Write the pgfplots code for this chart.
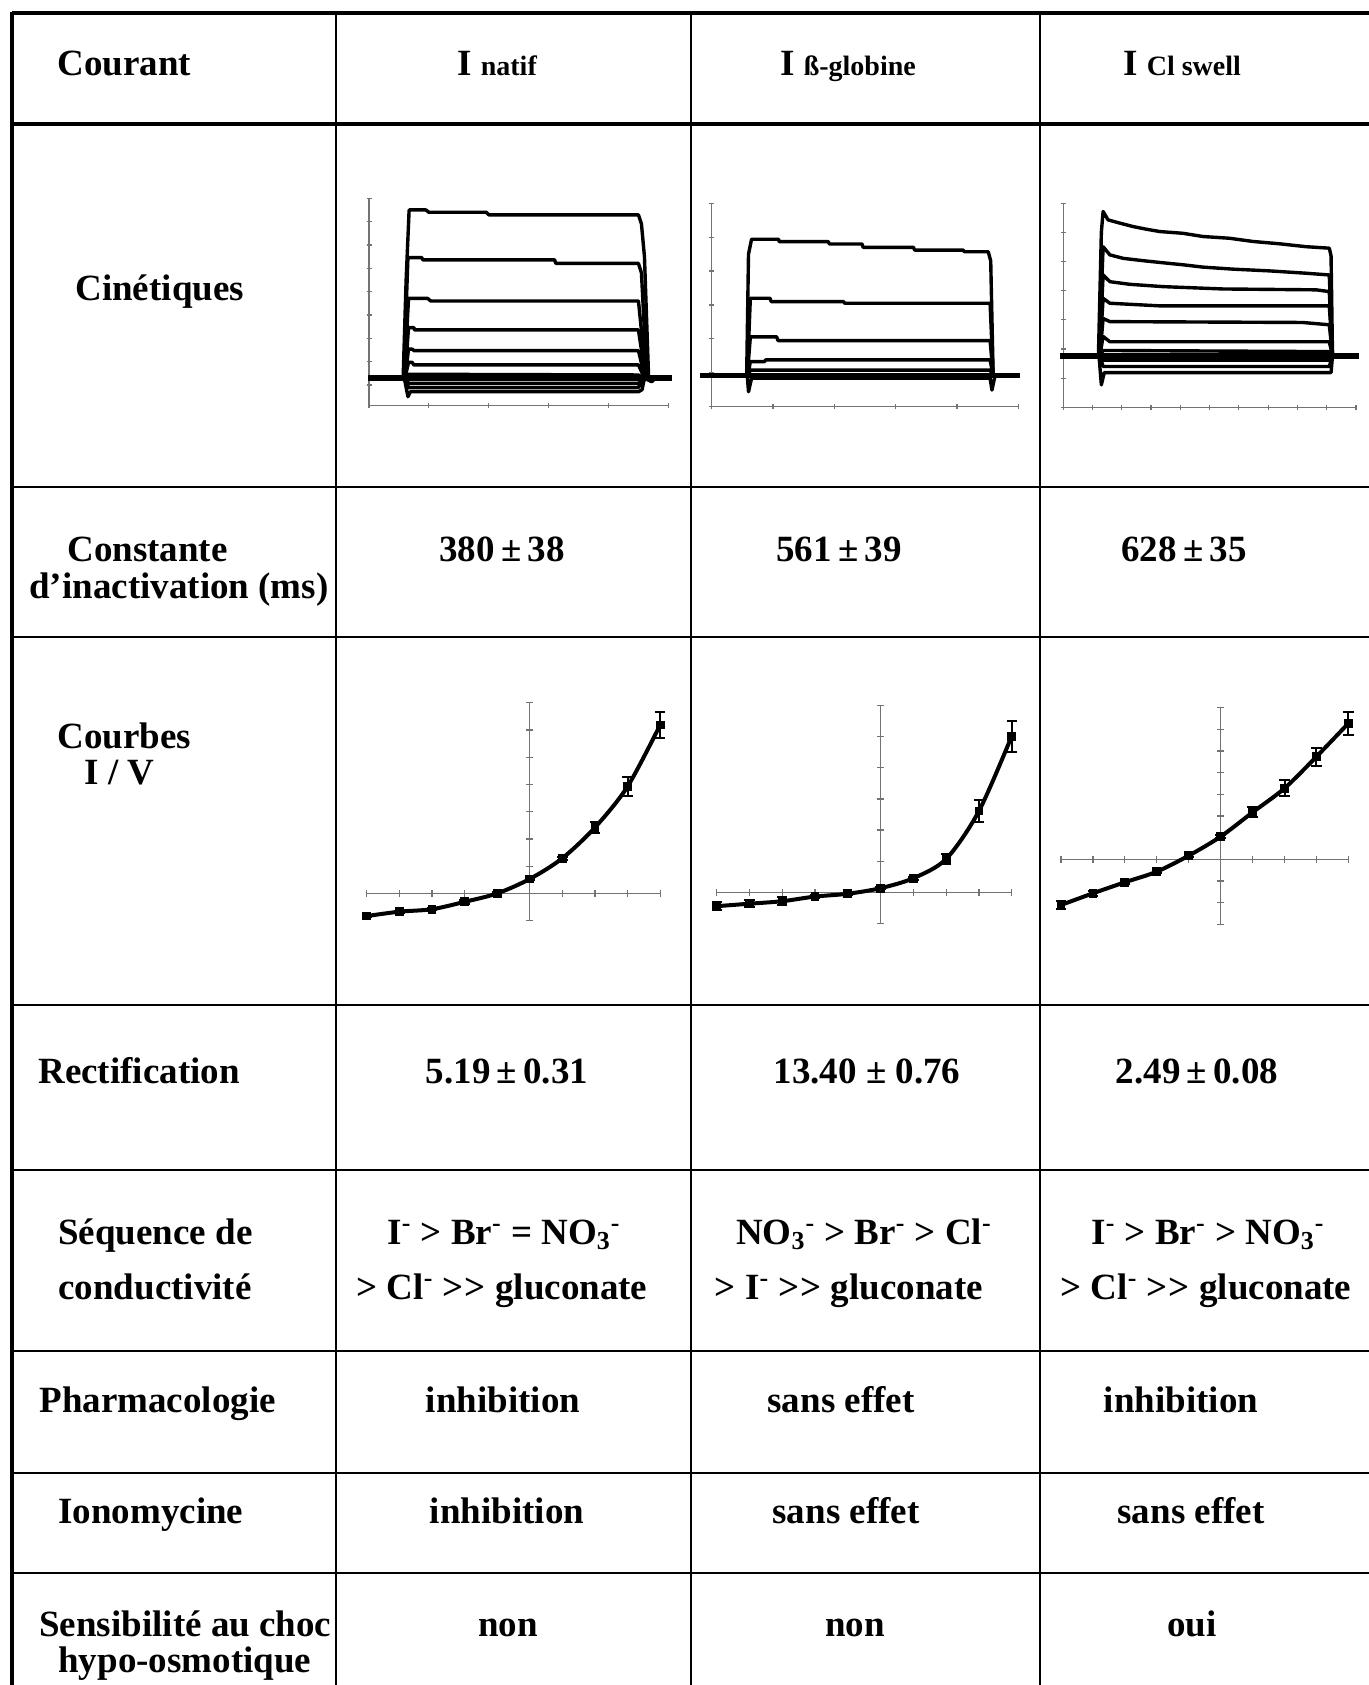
\documentclass[border=0pt]{standalone}
\usepackage{pgfplots}
\pgfplotsset{compat=1.18}
\usepackage{fontspec}
\setmainfont{Liberation Serif}
\newcommand{\m}{\textsuperscript{-}}
\newcommand{\sub}[1]{\textsubscript{#1}}
\newcommand{\ggt}{>\kern0.5pt>}
\pgfplotsset{
 mini/.style={scale only axis, clip=false, anchor=south west,
   xticklabels={}, yticklabels={}, tick align=center,
   axis line style={black!55, line width=0.6pt},
   every tick/.style={black!55, line width=0.6pt},
   major tick length=3.5pt},
 noarr/.style={
   every inner x axis line/.append style={-},
   every inner y axis line/.append style={-},
   every outer x axis line/.append style={-},
   every outer y axis line/.append style={-},
   x axis line style={-}, y axis line style={-}},
 tr/.style={black, line width=1.7pt, line join=round},
 base/.style={black, line width=2.8pt},
 iv/.style={black, line width=2pt, smooth, mark=square*, mark size=1.2pt,
   error bars/.cd, y dir=both, y explicit,
   error bar style={line width=1pt},
   error mark options={rotate=90, mark size=2.6pt, line width=1pt}},
}
\begin{document}
\bfseries
\begin{tikzpicture}[every node/.style={font=\bfseries\fontsize{18.5}{22}\selectfont, inner sep=0pt}]
\useasboundingbox (0,0) rectangle (684.5pt,842.5pt);
% ---------- table frame and text ----------
\begin{axis}[at={(0pt,0pt)}, anchor=south west, scale only axis,
  width=684.5pt, height=842.5pt, xmin=0, xmax=1369, ymin=0, ymax=1685,
  y dir=reverse, axis lines=none, ticks=none, clip=false]
\draw[line width=2pt] (axis cs:12,13) -- (axis cs:1369,13);
\draw[line width=2.2pt] (axis cs:12,124) -- (axis cs:1369,124);
\foreach \yy in {487,637,1005,1170,1351,1473,1573}{
  \edef\tmp{\noexpand\draw[line width=1pt] (axis cs:12,\yy) -- (axis cs:1369,\yy);}\tmp}
\draw[line width=2pt] (axis cs:12,12) -- (axis cs:12,1685);
\draw[line width=1.4pt] (axis cs:336,13) -- (axis cs:336,1685);
\draw[line width=1pt] (axis cs:691,13) -- (axis cs:691,1685);
\draw[line width=1pt] (axis cs:1040,13) -- (axis cs:1040,1685);
% header
\node[anchor=base west] at (axis cs:57,76) {Courant};
\node[anchor=base] at (axis cs:497,76) {I {\fontsize{14}{16}\selectfont natif}};
\node[anchor=base] at (axis cs:848,76) {I {\fontsize{14}{16}\selectfont ß-globine}};
\node[anchor=base] at (axis cs:1182,76) {I {\fontsize{14}{16}\selectfont Cl swell}};
% rows
\node[anchor=base west] at (axis cs:75,300) {Cinétiques};
\node[anchor=base west] at (axis cs:67,561) {Constante};
\node[anchor=base west] at (axis cs:29,598) {d’inactivation (ms)};
\node[anchor=base] at (axis cs:502,561) {380\,±\,38};
\node[anchor=base] at (axis cs:839,561) {561\,±\,39};
\node[anchor=base] at (axis cs:1184,561) {628\,±\,35};
\node[anchor=base west] at (axis cs:57,748) {Courbes};
\node[anchor=base west] at (axis cs:84,784) {I / V};
\node[anchor=base west] at (axis cs:38,1083) {Rectification};
\node[anchor=base] at (axis cs:507,1083) {5.19\,±\,0.31};
\node[anchor=base] at (axis cs:867,1083) {13.40 ± 0.76};
\node[anchor=base] at (axis cs:1197,1083) {2.49\,±\,0.08};
\node[anchor=base west] at (axis cs:58,1244) {Séquence de};
\node[anchor=base west] at (axis cs:58,1299) {conductivité};
\node[anchor=base] at (axis cs:504,1244) {I\m{} > Br\m{} = NO\sub{3}\m};
\node[anchor=base] at (axis cs:502,1299) {> Cl\m{} \ggt{} gluconate};
\node[anchor=base] at (axis cs:864,1244) {NO\sub{3}\m{} > Br\m{} > Cl\m};
\node[anchor=base] at (axis cs:849,1299) {> I\m{} \ggt{} gluconate};
\node[anchor=base] at (axis cs:1208,1244) {I\m{} > Br\m{} > NO\sub{3}\m};
\node[anchor=base] at (axis cs:1206,1299) {> Cl\m{} \ggt{} gluconate};
\node[anchor=base west] at (axis cs:39,1412) {Pharmacologie};
\node[anchor=base] at (axis cs:503,1412) {inhibition};
\node[anchor=base] at (axis cs:841,1412) {sans effet};
\node[anchor=base] at (axis cs:1181,1412) {inhibition};
\node[anchor=base west] at (axis cs:58,1523) {Ionomycine};
\node[anchor=base] at (axis cs:507,1523) {inhibition};
\node[anchor=base] at (axis cs:846,1523) {sans effet};
\node[anchor=base] at (axis cs:1191,1523) {sans effet};
\node[anchor=base west] at (axis cs:39,1636) {Sensibilité au choc};
\node[anchor=base west] at (axis cs:58,1672) {hypo-osmotique};
\node[anchor=base] at (axis cs:508,1636) {non};
\node[anchor=base] at (axis cs:855,1636) {non};
\node[anchor=base] at (axis cs:1192,1636) {oui};
\end{axis}
% ---------- kinetics 1 ----------
\begin{axis}[mini, at={(184.5pt,639.65pt)}, width=149.7pt, height=103.7pt,
  xmin=0, xmax=5, ymin=-0.886, ymax=8, axis x line=bottom, axis y line=left, noarr,
  xtick={0,...,5}, ytick={0,...,8}, major tick length=2.5pt]
\addplot[base] coordinates {(-0.02,0.29) (5.06,0.29)};
\addplot[tr] coordinates {(0.57,0.29)(0.62,4.5)(0.67,7.5)(0.95,7.5)(1.0,7.4)(1.96,7.4)(2.0,7.29)(4.5,7.29)(4.55,6.9)(4.6,5.5)(4.67,0.29)};
\addplot[tr] coordinates {(0.58,0.29)(0.65,5.46)(0.88,5.46)(0.9,5.36)(3.1,5.36)(3.12,5.21)(4.5,5.21)(4.55,4.8)(4.64,0.29)};
\addplot[tr] coordinates {(0.59,0.29)(0.66,3.71)(0.98,3.71)(1.03,3.6)(4.5,3.6)(4.63,0.29)};
\addplot[tr] coordinates {(0.6,0.29)(0.66,2.46)(0.75,2.46)(0.76,2.36)(4.5,2.36)(4.62,0.29)};
\addplot[tr] coordinates {(0.6,0.29)(0.66,1.54)(0.72,1.54)(0.75,1.47)(4.5,1.47)(4.61,0.29)};
\addplot[tr] coordinates {(0.6,0.29)(0.66,0.97)(0.72,0.97)(0.75,0.86)(4.5,0.86)(4.6,0.29)};
\addplot[tr] coordinates {(0.6,0.29)(0.66,0.46)(4.5,0.43)(4.58,0.29)};
\addplot[tr] coordinates {(0.6,0.29)(0.66,0.07)(4.5,0.07)(4.58,0.29)};
\addplot[tr] coordinates {(0.6,0.29)(0.66,-0.11)(4.5,-0.11)(4.58,0.29)};
\addplot[tr] coordinates {(0.59,0.29)(0.65,-0.5)(0.69,-0.29)(4.5,-0.29)(4.56,-0.2)(4.6,0.29)(4.72,0.14)(4.78,0.29)};
\end{axis}
% ---------- kinetics 2 ----------
\begin{axis}[mini, at={(355.85pt,639.15pt)}, width=153.3pt, height=101.7pt,
  xmin=0, xmax=5, ymin=0, ymax=6, axis x line=bottom, axis y line=left, noarr,
  xtick={0,...,5}, ytick={0,...,6}, major tick length=2.5pt]
\addplot[base] coordinates {(-0.19,0.914) (5.03,0.914)};
\addplot[tr] coordinates {(0.57,0.91)(0.6,4.5)(0.65,4.94)(1.09,4.94)(1.1,4.87)(1.9,4.87)(1.92,4.80)(2.45,4.80)(2.47,4.70)(3.29,4.70)(3.31,4.62)(4.1,4.62)(4.12,4.57)(4.51,4.57)(4.55,4.3)(4.59,0.91)};
\addplot[tr] coordinates {(0.58,0.91)(0.63,3.2)(0.95,3.2)(0.97,3.1)(2.15,3.1)(2.17,3.05)(4.54,3.05)(4.59,0.91)};
\addplot[tr] coordinates {(0.58,0.91)(0.63,2.06)(1.06,2.06)(1.08,1.95)(4.54,1.95)(4.59,0.91)};
\addplot[tr] coordinates {(0.59,0.91)(0.63,1.33)(0.86,1.33)(0.88,1.38)(4.54,1.38)(4.59,0.91)};
\addplot[tr] coordinates {(0.59,0.91)(0.63,1.08)(4.54,1.08)(4.59,0.91)};
\addplot[tr] coordinates {(0.58,0.91)(0.6,0.44)(0.65,0.84)(4.54,0.84)(4.57,0.49)(4.62,0.91)};
\end{axis}
% ---------- kinetics 3 ----------
\begin{axis}[mini, at={(531.65pt,638.85pt)}, width=146.3pt, height=102pt,
  xmin=0, xmax=10, ymin=0, ymax=7, axis x line=bottom, axis y line=left, noarr,
  xtick={0,...,10}, ytick={0,...,7}, major tick length=2.5pt]
\addplot[base] coordinates {(-0.11,1.77) (10.11,1.77)};
\addplot[tr] coordinates {(1.2,1.77)(1.3,6.0)(1.36,6.72)(1.53,6.43)(1.93,6.32)(2.39,6.20)(2.84,6.11)(3.30,6.03)(4.09,5.97)(4.77,5.86)(5.68,5.80)(6.48,5.69)(7.39,5.61)(8.30,5.51)(9.09,5.46)(9.15,5.2)(9.2,1.77)};
\addplot[tr] coordinates {(1.22,1.77)(1.36,5.51)(1.59,5.23)(2.05,5.11)(2.73,5.03)(3.30,4.97)(4.09,4.89)(4.77,4.81)(5.80,4.74)(7.05,4.68)(8.30,4.60)(9.09,4.54)(9.2,1.77)};
\addplot[tr] coordinates {(1.23,1.77)(1.36,4.54)(1.59,4.31)(2.27,4.22)(3.41,4.14)(5.45,4.06)(8.64,4.03)(9.09,3.97)(9.2,1.77)};
\addplot[tr] coordinates {(1.24,1.77)(1.36,3.74)(1.59,3.57)(3.30,3.48)(9.09,3.48)(9.2,1.77)};
\addplot[tr] coordinates {(1.25,1.77)(1.36,3.05)(1.59,2.94)(8.18,2.91)(9.09,2.83)(9.2,1.77)};
\addplot[tr] coordinates {(1.25,1.77)(1.36,2.43)(1.59,2.25)(9.09,2.25)(9.2,1.77)};
\addplot[tr] coordinates {(1.25,1.77)(1.36,1.95)(9.09,1.91)(9.2,1.77)};
\addplot[tr] coordinates {(1.25,1.77)(1.36,1.62)(9.09,1.62)(9.2,1.77)};
\addplot[tr] coordinates {(1.24,1.77)(1.36,1.40)(9.09,1.40)(9.2,1.77)};
\addplot[tr] coordinates {(1.22,1.77)(1.3,0.77)(1.4,1.19)(9.09,1.19)(9.15,1.19)(9.2,1.77)};
\end{axis}
% ---------- I/V 1 ----------
\begin{axis}[mini, at={(183.35pt,382.15pt)}, width=146.7pt, height=109pt,
  xmin=-100, xmax=80, ymin=-1, ymax=7, axis lines=middle, noarr,
  xtick={-100,-80,...,80}, ytick={-1,0,...,7}]
\addplot[iv] coordinates {(-100,-0.83)+-(0,0.04) (-80,-0.67)+-(0,0.04) (-60,-0.58)+-(0,0.04) (-40,-0.31)+-(0,0.06) (-20,0)+-(0,0.05) (0,0.53)+-(0,0.05) (20,1.29)+-(0,0.06) (40,2.42)+-(0,0.2) (60,3.92)+-(0,0.34) (80,6.18)+-(0,0.49)};
\end{axis}
% ---------- I/V 2 ----------
\begin{axis}[mini, at={(358.35pt,380.85pt)}, width=147.5pt, height=108.8pt,
  xmin=-100, xmax=80, ymin=-1, ymax=6, axis lines=middle, noarr,
  xtick={-100,-80,...,80}, ytick={-1,0,...,6}]
\addplot[iv] coordinates {(-100,-0.45)+-(0,0.13) (-80,-0.37)+-(0,0.12) (-60,-0.29)+-(0,0.12) (-40,-0.14)+-(0,0.05) (-20,-0.05)+-(0,0.04) (0,0.13)+-(0,0.04) (20,0.45)+-(0,0.05) (40,1.07)+-(0,0.16) (60,2.61)+-(0,0.35) (80,5.02)+-(0,0.5)};
\end{axis}
% ---------- I/V 3 ----------
\begin{axis}[mini, at={(530.5pt,380.35pt)}, width=143.7pt, height=108.3pt,
  xmin=-100, xmax=80, ymin=-3, ymax=7, axis lines=middle, noarr,
  xtick={-100,-80,...,80}, ytick={-3,-2,...,7}]
\addplot[iv] coordinates {(-100,-2.11)+-(0,0.2) (-80,-1.57)+-(0,0.12) (-60,-1.06)+-(0,0.1) (-40,-0.57)+-(0,0.08) (-20,0.17)+-(0,0.08) (0,1.05)+-(0,0.08) (20,2.17)+-(0,0.23) (40,3.28)+-(0,0.38) (60,4.74)+-(0,0.42) (80,6.28)+-(0,0.52)};
\end{axis}
\end{tikzpicture}
\end{document}
